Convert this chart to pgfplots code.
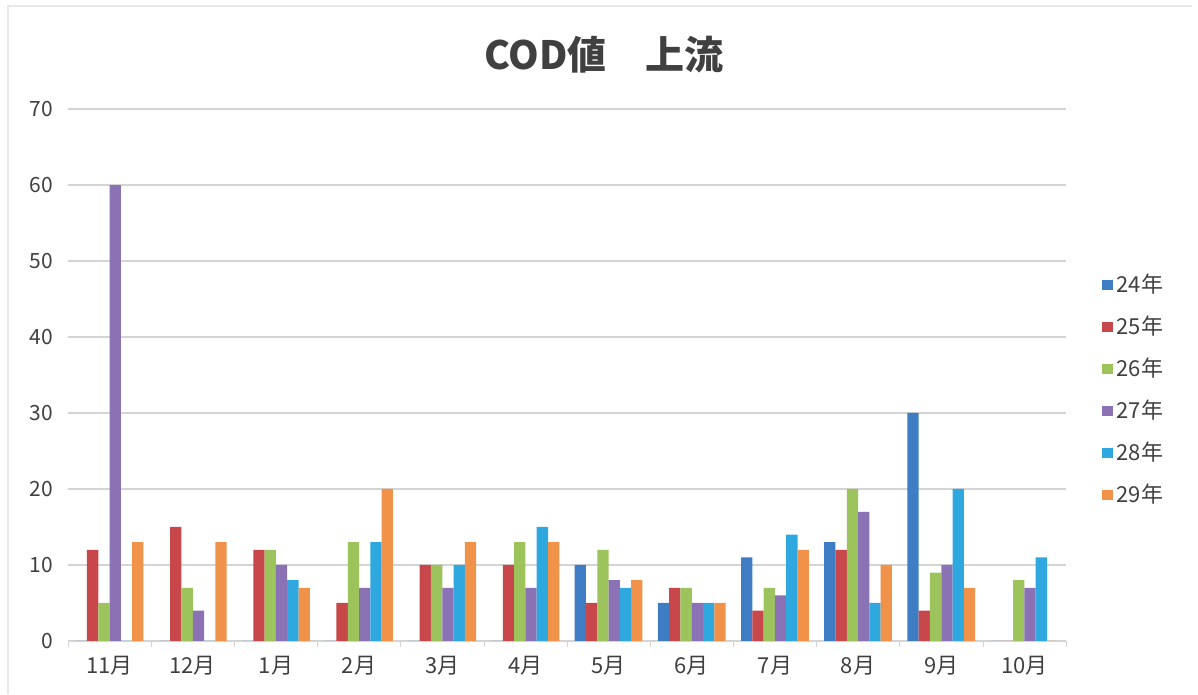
\documentclass[border=0pt]{standalone}
\usepackage{fontspec}
\setmainfont{Noto Sans CJK JP}
\usepackage{pgfplots}
\pgfplotsset{compat=1.18}

\definecolor{c24}{HTML}{3E7CC4}
\definecolor{c25}{HTML}{C8474A}
\definecolor{c26}{HTML}{9DC35C}
\definecolor{c27}{HTML}{8A72B5}
\definecolor{c28}{HTML}{2FA8E0}
\definecolor{c29}{HTML}{F0924A}
\definecolor{txt}{HTML}{404040}
\definecolor{gridc}{HTML}{D4D4D4}
\definecolor{framec}{HTML}{E8E8E8}

\begin{document}
\begin{tikzpicture}
\useasboundingbox (0,0) rectangle (599pt,347.5pt);
\draw[framec, line width=0.8pt] (4pt,0.5pt) -- (4pt,344.5pt) -- (596pt,344.5pt);
\node[font=\bfseries\fontsize{19.5}{22}\selectfont, text=txt] at (302pt,320pt) {COD値\hspace{1em}上流};
\begin{axis}[
  at={(34pt,27pt)}, anchor=south west,
  scale only axis, width=499pt, height=266pt,
  ybar=0pt, bar width=5.65pt,
  xmin=-0.5, xmax=11.5, ymin=0, ymax=70,
  ytick={0,10,...,70},
  yticklabels={0,10,20,30,40,50,60,70},
  xtick={0,...,11},
  xticklabels={11月,12月,1月,2月,3月,4月,5月,6月,7月,8月,9月,10月},
  major tick length=0pt,
  extra x ticks={-0.5,0.5,...,11.5},
  extra x tick labels={},
  extra x tick style={major tick length=3pt, tick align=outside, tick style={draw=gridc}},
  ymajorgrids, grid style={gridc, line width=0.6pt},
  separate axis lines,
  axis x line*=bottom,
  x axis line style={gridc, line width=0.8pt},
  y axis line style={draw=none},
  xticklabel style={font=\fontsize{11}{12}\selectfont, yshift=-4pt, text=txt},
  yticklabel style={font=\fontsize{10.5}{12}\selectfont, xshift=-4pt, text=txt},
  legend style={at={(1.03,0.705)}, anchor=north west, draw=none, fill=none,
    font=\fontsize{11}{12}\selectfont, text=txt, row sep=6.2pt},
  legend cell align=left,
  legend image code/.code={\fill[#1] (0pt,-2.6pt) rectangle (5.2pt,2.6pt);},
]
\addplot[fill=c24, draw=none] coordinates {(0,0) (1,0) (2,0) (3,0) (4,0) (5,0) (6,10) (7,5) (8,11) (9,13) (10,30) (11,0)};
\addplot[fill=c25, draw=none] coordinates {(0,12) (1,15) (2,12) (3,5) (4,10) (5,10) (6,5) (7,7) (8,4) (9,12) (10,4) (11,0)};
\addplot[fill=c26, draw=none] coordinates {(0,5) (1,7) (2,12) (3,13) (4,10) (5,13) (6,12) (7,7) (8,7) (9,20) (10,9) (11,8)};
\addplot[fill=c27, draw=none] coordinates {(0,60) (1,4) (2,10) (3,7) (4,7) (5,7) (6,8) (7,5) (8,6) (9,17) (10,10) (11,7)};
\addplot[fill=c28, draw=none] coordinates {(0,0) (1,0) (2,8) (3,13) (4,10) (5,15) (6,7) (7,5) (8,14) (9,5) (10,20) (11,11)};
\addplot[fill=c29, draw=none] coordinates {(0,13) (1,13) (2,7) (3,20) (4,13) (5,13) (6,8) (7,5) (8,12) (9,10) (10,7) (11,0)};
\legend{24年,25年,26年,27年,28年,29年}
\end{axis}
\end{tikzpicture}
\end{document}
